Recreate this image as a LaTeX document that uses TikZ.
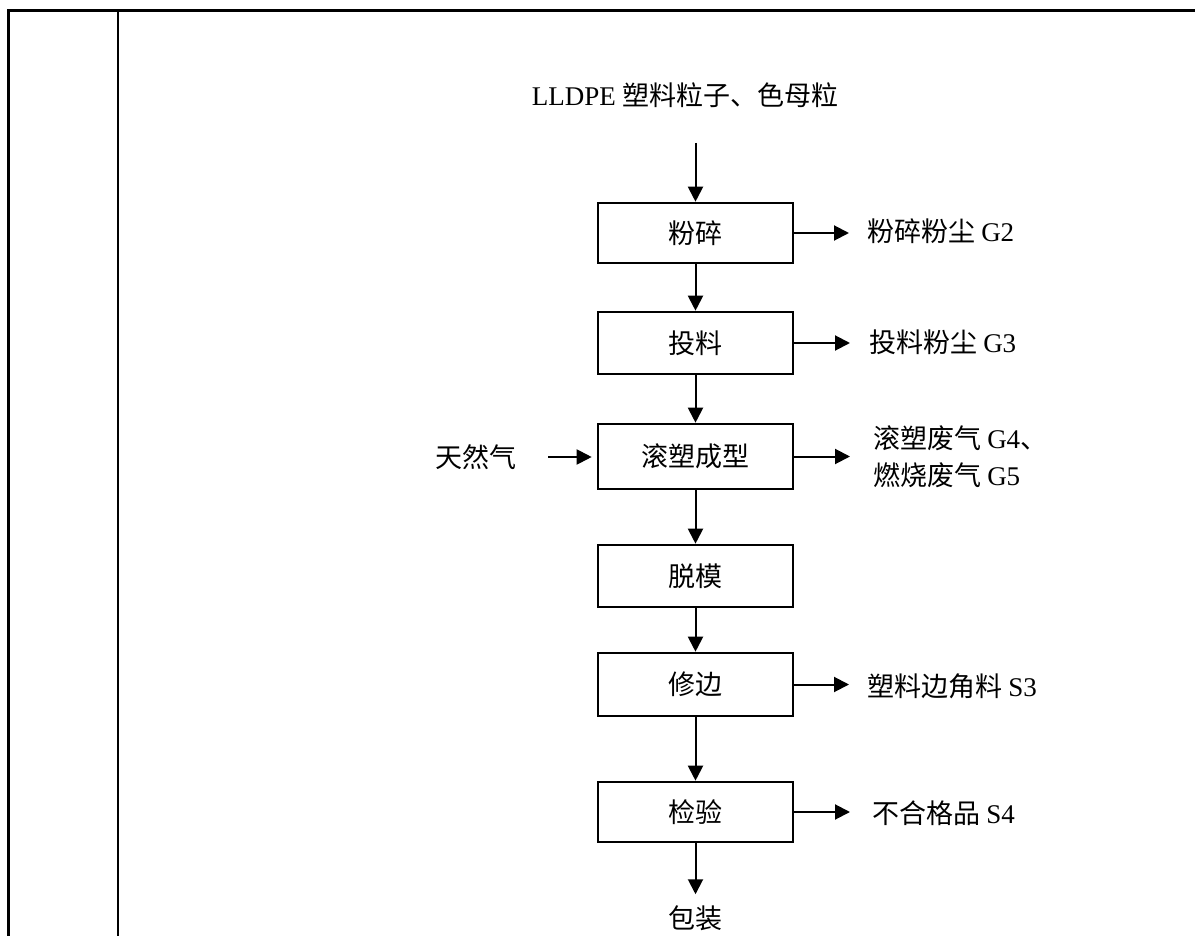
\documentclass[tikz,border=0pt]{standalone}
\usepackage{fontspec}
\setmainfont{Liberation Serif}
\newfontfamily\cjk{Noto Sans CJK SC}
\usetikzlibrary{arrows.meta}
\tikzset{
  procbox/.style={draw, line width=2.6pt, minimum width=195pt, inner sep=0pt,
    font=\cjk\fontsize{27}{37}\selectfont},
  lab/.style={inner sep=0pt, font=\cjk\fontsize{27}{37}\selectfont, align=left},
  arr/.style={line width=2pt, -{Triangle[length=15pt,width=15pt]}},
  frame/.style={line width=3pt}
}
\begin{document}
\begin{tikzpicture}[x=1pt,y=-1pt]
\useasboundingbox (0,0) rectangle (1195,936);
% table frame
\draw[frame] (8,937) -- (8,11) -- (1196,11);
\draw[line width=1.8pt] (118,11) -- (118,937);

% source
\node[lab] (src) at (685,95) {\textrm{LLDPE} 塑料粒子、色母粒};
\coordinate (srcend) at (695.5,143);

% process boxes
\node[procbox, minimum height=60pt] (b1) at (695.5,233) {粉碎};
\node[procbox, minimum height=62pt] (b2) at (695.5,343) {投料};
\node[procbox, minimum height=65pt] (b3) at (695.5,456.5) {滚塑成型};
\node[procbox, minimum height=62pt] (b4) at (695.5,576) {脱模};
\node[procbox, minimum height=63pt] (b5) at (695.5,684.5) {修边};
\node[procbox, minimum height=60pt] (b6) at (695.5,812) {检验};

% outputs
\node[lab, anchor=west] (o1) at (867,231) {粉碎粉尘 \textrm{G2}};
\node[lab, anchor=west] (o2) at (869,342) {投料粉尘 \textrm{G3}};
\node[lab, anchor=west] (o3) at (873,456.5) {滚塑废气 \textrm{G4}、\\燃烧废气 \textrm{G5}};
\node[lab, anchor=west] (o5) at (867,686) {塑料边角料 \textrm{S3}};
\node[lab, anchor=west] (o6) at (872,813) {不合格品 \textrm{S4}};

% inputs / end
\node[lab, anchor=east] (gas) at (517,457) {天然气};
\node[lab] (pack) at (695.5,918) {包装};

% vertical flow
\draw[arr] (srcend) -- (b1.north);
\draw[arr] (b1) -- (b2);
\draw[arr] (b2) -- (b3);
\draw[arr] (b3) -- (b4);
\draw[arr] (b4) -- (b5);
\draw[arr] (b5) -- (b6);
\draw[arr, shorten >=11pt] (b6.south) -- (pack.north);

% side arrows
\draw[arr, shorten >=18pt] (b1.east) -- (b1.east -| o1.west);
\draw[arr, shorten >=19pt] (b2.east) -- (b2.east -| o2.west);
\draw[arr, shorten >=23pt] (b3.east) -- (b3.east -| o3.west);
\draw[arr, shorten >=18pt] (b5.east) -- (b5.east -| o5.west);
\draw[arr, shorten >=22pt] (b6.east) -- (b6.east -| o6.west);
\draw[arr, shorten <=31pt, shorten >=5pt] (gas.east) -- (gas.east -| b3.west);
\end{tikzpicture}
\end{document}
